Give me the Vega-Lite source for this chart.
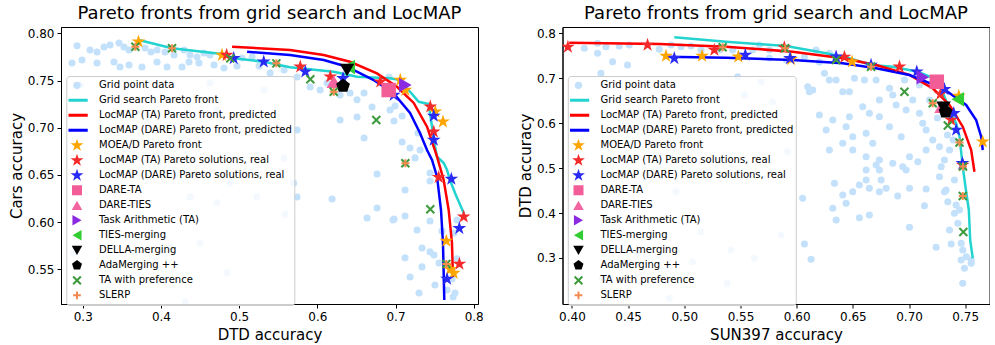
{
"$schema": "https://vega.github.io/schema/vega-lite/v6.json",
"padding": {"left": 8, "top": 4, "right": 0, "bottom": 0},
"spacing": 33.5,
"resolve": {"scale": {"color": "independent", "shape": "independent", "size": "independent", "x": "independent", "y": "independent"}, "legend": {"color": "independent"}},
"config": {
  "font": "DejaVu Sans",
  "view": {"stroke": "black", "strokeWidth": 1},
  "title": {"font": "DejaVu Sans", "fontSize": 18, "fontWeight": "normal", "anchor": "middle", "offset": 4, "color": "black"},
  "axis": {"grid": false, "domainColor": "black", "tickColor": "black", "labelColor": "black", "titleColor": "black", "labelFont": "DejaVu Sans", "titleFont": "DejaVu Sans", "labelFontSize": 12, "titleFontSize": 15, "titleFontWeight": "normal", "tickSize": 4, "labelPadding": 3, "labelFlush": false, "labelOverlap": false},
  "axisX": {"titlePadding": 5},
  "axisY": {"titlePadding": 3},
  "legend": {"labelFont": "DejaVu Sans", "labelFontSize": 10, "labelColor": "black", "padding": 2.2, "rowPadding": 0, "clipHeight": 14.3, "strokeColor": "#cccccc", "fillColor": "rgba(255,255,255,0.8)", "cornerRadius": 3, "labelLimit": 400, "labelOffset": 17, "symbolOffset": 3.5, "symbolSize": 180}
},
"datasets": {
"L": [
{"s":"Grid point data","x":0.2927,"y":0.7869},{"s":"Grid point data","x":0.3093,"y":0.7823},{"s":"Grid point data","x":0.3183,"y":0.7802},{"s":"Grid point data","x":0.3272,"y":0.7855},{"s":"Grid point data","x":0.3349,"y":0.7876},{"s":"Grid point data","x":0.3464,"y":0.7897},{"s":"Grid point data","x":0.3528,"y":0.7855},{"s":"Grid point data","x":0.3592,"y":0.7823},{"s":"Grid point data","x":0.3797,"y":0.7844},{"s":"Grid point data","x":0.3873,"y":0.7802},{"s":"Grid point data","x":0.395,"y":0.7823},{"s":"Grid point data","x":0.4052,"y":0.7802},{"s":"Grid point data","x":0.4168,"y":0.777},{"s":"Grid point data","x":0.4295,"y":0.7823},{"s":"Grid point data","x":0.4372,"y":0.777},{"s":"Grid point data","x":0.4462,"y":0.7749},{"s":"Grid point data","x":0.4551,"y":0.7791},{"s":"Grid point data","x":0.4628,"y":0.777},{"s":"Grid point data","x":0.5038,"y":0.7738},{"s":"Grid point data","x":0.5166,"y":0.7749},
{"s":"Grid point data","x":0.2863,"y":0.7685},{"s":"Grid point data","x":0.2991,"y":0.7717},{"s":"Grid point data","x":0.3183,"y":0.7685},{"s":"Grid point data","x":0.34,"y":0.7696},{"s":"Grid point data","x":0.3477,"y":0.7643},{"s":"Grid point data","x":0.3592,"y":0.7664},{"s":"Grid point data","x":0.3758,"y":0.7643},{"s":"Grid point data","x":0.395,"y":0.7696},{"s":"Grid point data","x":0.4078,"y":0.7643},{"s":"Grid point data","x":0.427,"y":0.7643},{"s":"Grid point data","x":0.4359,"y":0.7696},{"s":"Grid point data","x":0.4487,"y":0.7685},{"s":"Grid point data","x":0.4679,"y":0.7664},{"s":"Grid point data","x":0.4807,"y":0.7632},{"s":"Grid point data","x":0.4973,"y":0.7653},{"s":"Grid point data","x":0.5255,"y":0.7653},
{"s":"Grid point data","x":0.5396,"y":0.7579},{"s":"Grid point data","x":0.5575,"y":0.7611},{"s":"Grid point data","x":0.5741,"y":0.7537},{"s":"Grid point data","x":0.5908,"y":0.7431},{"s":"Grid point data","x":0.6036,"y":0.7399},{"s":"Grid point data","x":0.6125,"y":0.7473},{"s":"Grid point data","x":0.6291,"y":0.7346},{"s":"Grid point data","x":0.6419,"y":0.7367},{"s":"Grid point data","x":0.6508,"y":0.7296},{"s":"Grid point data","x":0.6598,"y":0.7367},{"s":"Grid point data","x":0.67,"y":0.722},{"s":"Grid point data","x":0.6918,"y":0.7537},{"s":"Grid point data","x":0.693,"y":0.7188},{"s":"Grid point data","x":0.6994,"y":0.723},{"s":"Grid point data","x":0.7084,"y":0.7124},{"s":"Grid point data","x":0.6981,"y":0.7071},{"s":"Grid point data","x":0.7288,"y":0.6944},{"s":"Grid point data","x":0.6598,"y":0.6891},{"s":"Grid point data","x":0.7084,"y":0.6849},{"s":"Grid point data","x":0.7186,"y":0.6785},{"s":"Grid point data","x":0.725,"y":0.668},{"s":"Grid point data","x":0.7314,"y":0.6764},{"s":"Grid point data","x":0.6291,"y":0.7082},{"s":"Grid point data","x":0.6508,"y":0.7113},
{"s":"Grid point data","x":0.2967,"y":0.7452},{"s":"Grid point data","x":0.4628,"y":0.7473},{"s":"Grid point data","x":0.4717,"y":0.7188},{"s":"Grid point data","x":0.5318,"y":0.7399},{"s":"Grid point data","x":0.5741,"y":0.6976},{"s":"Grid point data","x":0.5575,"y":0.668},{"s":"Grid point data","x":0.4884,"y":0.6415},{"s":"Grid point data","x":0.5229,"y":0.6267},{"s":"Grid point data","x":0.4717,"y":0.6204},{"s":"Grid point data","x":0.4372,"y":0.6267},{"s":"Grid point data","x":0.4168,"y":0.65},{"s":"Grid point data","x":0.3669,"y":0.5674},{"s":"Grid point data","x":0.4116,"y":0.5737},{"s":"Grid point data","x":0.45,"y":0.578},{"s":"Grid point data","x":0.4846,"y":0.5462},{"s":"Grid point data","x":0.2885,"y":0.5673},
{"s":"Grid point data","x":0.5698,"y":0.6414},{"s":"Grid point data","x":0.5741,"y":0.6266},{"s":"Grid point data","x":0.6189,"y":0.6245},{"s":"Grid point data","x":0.5588,"y":0.6086},{"s":"Grid point data","x":0.6636,"y":0.6043},{"s":"Grid point data","x":0.6764,"y":0.6149},{"s":"Grid point data","x":0.6981,"y":0.6033},{"s":"Grid point data","x":0.7122,"y":0.6064},{"s":"Grid point data","x":0.7122,"y":0.634},{"s":"Grid point data","x":0.6764,"y":0.651},{"s":"Grid point data","x":0.7275,"y":0.5917},{"s":"Grid point data","x":0.7339,"y":0.5726},{"s":"Grid point data","x":0.7441,"y":0.5684},{"s":"Grid point data","x":0.7492,"y":0.5652},{"s":"Grid point data","x":0.7122,"y":0.5621},{"s":"Grid point data","x":0.7339,"y":0.5525},{"s":"Grid point data","x":0.7557,"y":0.5567},{"s":"Grid point data","x":0.7186,"y":0.5419},{"s":"Grid point data","x":0.7505,"y":0.5334},{"s":"Grid point data","x":0.7301,"y":0.5249},{"s":"Grid point data","x":0.7659,"y":0.5281},{"s":"Grid point data","x":0.7736,"y":0.5207},{"s":"Grid point data","x":0.7761,"y":0.5249},{"s":"Grid point data","x":0.7786,"y":0.6022},{"s":"Grid point data","x":0.7748,"y":0.5885},{"s":"Grid point data","x":0.7786,"y":0.561},{"s":"Grid point data","x":0.7723,"y":0.5397},{"s":"Grid point data","x":0.7595,"y":0.5906},{"s":"Grid point data","x":0.7441,"y":0.6012},{"s":"Grid point data","x":0.7441,"y":0.652},{"s":"Grid point data","x":0.7441,"y":0.6436},{"s":"Grid point data","x":0.4311,"y":0.5155},{"s":"Grid point data","x":0.6968,"y":0.6022},
{"s":"Grid search Pareto front","k":1,"x":0.3716,"y":0.7929},{"s":"Grid search Pareto front","k":2,"x":0.4142,"y":0.7841},{"s":"Grid search Pareto front","k":3,"x":0.4781,"y":0.7781},{"s":"Grid search Pareto front","k":4,"x":0.4931,"y":0.7735},{"s":"Grid search Pareto front","k":5,"x":0.5315,"y":0.7699},{"s":"Grid search Pareto front","k":6,"x":0.5651,"y":0.764},{"s":"Grid search Pareto front","k":7,"x":0.621,"y":0.7593},{"s":"Grid search Pareto front","k":8,"x":0.6508,"y":0.754},{"s":"Grid search Pareto front","k":9,"x":0.693,"y":0.7523},{"s":"Grid search Pareto front","k":10,"x":0.7058,"y":0.7505},{"s":"Grid search Pareto front","k":11,"x":0.7186,"y":0.7381},{"s":"Grid search Pareto front","k":12,"x":0.7297,"y":0.7275},{"s":"Grid search Pareto front","k":13,"x":0.7425,"y":0.7251},{"s":"Grid search Pareto front","k":14,"x":0.7441,"y":0.7156},{"s":"Grid search Pareto front","k":15,"x":0.7467,"y":0.7011},{"s":"Grid search Pareto front","k":16,"x":0.7489,"y":0.687},{"s":"Grid search Pareto front","k":17,"x":0.7531,"y":0.6693},{"s":"Grid search Pareto front","k":18,"x":0.7617,"y":0.6626},{"s":"Grid search Pareto front","k":19,"x":0.7659,"y":0.6552},{"s":"Grid search Pareto front","k":20,"x":0.7697,"y":0.6446},{"s":"Grid search Pareto front","k":21,"x":0.7761,"y":0.6308},{"s":"Grid search Pareto front","k":22,"x":0.7872,"y":0.6096},
{"s":"LocMAP (TA) Pareto front, predicted","k":1,"x":0.491,"y":0.7858},{"s":"LocMAP (TA) Pareto front, predicted","k":2,"x":0.5651,"y":0.7823},{"s":"LocMAP (TA) Pareto front, predicted","k":3,"x":0.6082,"y":0.777},{"s":"LocMAP (TA) Pareto front, predicted","k":4,"x":0.6418,"y":0.7699},{"s":"LocMAP (TA) Pareto front, predicted","k":5,"x":0.6763,"y":0.7576},{"s":"LocMAP (TA) Pareto front, predicted","k":6,"x":0.7019,"y":0.7434},{"s":"LocMAP (TA) Pareto front, predicted","k":7,"x":0.7233,"y":0.7262},{"s":"LocMAP (TA) Pareto front, predicted","k":8,"x":0.7403,"y":0.7011},{"s":"LocMAP (TA) Pareto front, predicted","k":9,"x":0.7531,"y":0.6693},{"s":"LocMAP (TA) Pareto front, predicted","k":10,"x":0.7616,"y":0.6446},{"s":"LocMAP (TA) Pareto front, predicted","k":11,"x":0.768,"y":0.6128},{"s":"LocMAP (TA) Pareto front, predicted","k":12,"x":0.7722,"y":0.5779},{"s":"LocMAP (TA) Pareto front, predicted","k":13,"x":0.7735,"y":0.5419},
{"s":"LocMAP (DARE) Pareto front, predicted","k":1,"x":0.5102,"y":0.7805},{"s":"LocMAP (DARE) Pareto front, predicted","k":2,"x":0.5651,"y":0.777},{"s":"LocMAP (DARE) Pareto front, predicted","k":3,"x":0.6082,"y":0.7717},{"s":"LocMAP (DARE) Pareto front, predicted","k":4,"x":0.638,"y":0.7646},{"s":"LocMAP (DARE) Pareto front, predicted","k":5,"x":0.6721,"y":0.7505},{"s":"LocMAP (DARE) Pareto front, predicted","k":6,"x":0.6977,"y":0.7364},{"s":"LocMAP (DARE) Pareto front, predicted","k":7,"x":0.7186,"y":0.7156},{"s":"LocMAP (DARE) Pareto front, predicted","k":8,"x":0.7313,"y":0.6944},{"s":"LocMAP (DARE) Pareto front, predicted","k":9,"x":0.7403,"y":0.6764},{"s":"LocMAP (DARE) Pareto front, predicted","k":10,"x":0.7467,"y":0.6658},{"s":"LocMAP (DARE) Pareto front, predicted","k":11,"x":0.7531,"y":0.6481},{"s":"LocMAP (DARE) Pareto front, predicted","k":12,"x":0.7582,"y":0.6128},{"s":"LocMAP (DARE) Pareto front, predicted","k":13,"x":0.7607,"y":0.5779},{"s":"LocMAP (DARE) Pareto front, predicted","k":14,"x":0.7624,"y":0.5175},
{"s":"MOEA/D Pareto front","x":0.3713,"y":0.7911},{"s":"MOEA/D Pareto front","x":0.4781,"y":0.777},{"s":"MOEA/D Pareto front","x":0.7061,"y":0.7505},{"s":"MOEA/D Pareto front","x":0.7126,"y":0.7399},{"s":"MOEA/D Pareto front","x":0.7509,"y":0.717},{"s":"MOEA/D Pareto front","x":0.7607,"y":0.7064},{"s":"MOEA/D Pareto front","x":0.765,"y":0.58},{"s":"MOEA/D Pareto front","x":0.77,"y":0.55},{"s":"MOEA/D Pareto front","x":0.7745,"y":0.546},
{"s":"LocMAP (TA) Pareto solutions, real","x":0.484,"y":0.777},{"s":"LocMAP (TA) Pareto solutions, real","x":0.5782,"y":0.7646},{"s":"LocMAP (TA) Pareto solutions, real","x":0.6166,"y":0.754},{"s":"LocMAP (TA) Pareto solutions, real","x":0.6806,"y":0.7487},{"s":"LocMAP (TA) Pareto solutions, real","x":0.7445,"y":0.7223},{"s":"LocMAP (TA) Pareto solutions, real","x":0.7489,"y":0.6958},{"s":"LocMAP (TA) Pareto solutions, real","x":0.7552,"y":0.6475},{"s":"LocMAP (TA) Pareto solutions, real","x":0.7872,"y":0.6057},{"s":"LocMAP (TA) Pareto solutions, real","x":0.7817,"y":0.5556},
{"s":"LocMAP (DARE) Pareto solutions, real","x":0.4931,"y":0.7735},{"s":"LocMAP (DARE) Pareto solutions, real","x":0.5315,"y":0.7699},{"s":"LocMAP (DARE) Pareto solutions, real","x":0.5847,"y":0.7593},{"s":"LocMAP (DARE) Pareto solutions, real","x":0.6329,"y":0.7523},{"s":"LocMAP (DARE) Pareto solutions, real","x":0.6977,"y":0.7346},{"s":"LocMAP (DARE) Pareto solutions, real","x":0.7489,"y":0.7124},{"s":"LocMAP (DARE) Pareto solutions, real","x":0.7489,"y":0.687},{"s":"LocMAP (DARE) Pareto solutions, real","x":0.7714,"y":0.6457},{"s":"LocMAP (DARE) Pareto solutions, real","x":0.7816,"y":0.5934},{"s":"LocMAP (DARE) Pareto solutions, real","x":0.7659,"y":0.5397},
{"s":"DARE-TA","x":0.6913,"y":0.7399},
{"s":"DARE-TIES","x":0.621,"y":0.7487},
{"s":"Task Arithmetic (TA)","x":0.7126,"y":0.7452},
{"s":"TIES-merging","x":0.6402,"y":0.7643},
{"s":"DELLA-merging","x":0.638,"y":0.7611},
{"s":"AdaMerging ++","x":0.6329,"y":0.7442},
{"s":"TA with preference","x":0.3673,"y":0.7858},{"s":"TA with preference","x":0.4142,"y":0.7841},{"s":"TA with preference","x":0.4887,"y":0.7735},{"s":"TA with preference","x":0.5476,"y":0.7682},{"s":"TA with preference","x":0.5911,"y":0.7513},{"s":"TA with preference","x":0.621,"y":0.7381},{"s":"TA with preference","x":0.6754,"y":0.7082},{"s":"TA with preference","x":0.7126,"y":0.6623},{"s":"TA with preference","x":0.7445,"y":0.6136},{"s":"TA with preference","x":0.765,"y":0.5556},
{"s":"SLERP","x":0.3673,"y":0.7858},{"s":"SLERP","x":0.4142,"y":0.7841},{"s":"SLERP","x":0.5476,"y":0.7682},{"s":"SLERP","x":0.621,"y":0.7381},{"s":"SLERP","x":0.7126,"y":0.6623},{"s":"SLERP","x":0.765,"y":0.5556}
],
"R": [
{"s":"Grid point data","x":0.411,"y":0.7666},{"s":"Grid point data","x":0.4228,"y":0.7555},{"s":"Grid point data","x":0.4421,"y":0.7717},{"s":"Grid point data","x":0.451,"y":0.774},{"s":"Grid point data","x":0.4362,"y":0.7368},{"s":"Grid point data","x":0.4495,"y":0.7295},{"s":"Grid point data","x":0.4258,"y":0.711},{"s":"Grid point data","x":0.4228,"y":0.7777},{"s":"Grid point data","x":0.4303,"y":0.7702},{"s":"Grid point data","x":0.4777,"y":0.7644},{"s":"Grid point data","x":0.4882,"y":0.774},{"s":"Grid point data","x":0.4971,"y":0.7702},{"s":"Grid point data","x":0.506,"y":0.7717},{"s":"Grid point data","x":0.5149,"y":0.7628},{"s":"Grid point data","x":0.5312,"y":0.7628},{"s":"Grid point data","x":0.543,"y":0.7628},{"s":"Grid point data","x":0.5608,"y":0.7628},{"s":"Grid point data","x":0.5668,"y":0.774},{"s":"Grid point data","x":0.5757,"y":0.7628},{"s":"Grid point data","x":0.6173,"y":0.7628},{"s":"Grid point data","x":0.6291,"y":0.7555},
{"s":"Grid point data","x":0.6098,"y":0.6812},{"s":"Grid point data","x":0.6143,"y":0.6738},{"s":"Grid point data","x":0.6247,"y":0.711},{"s":"Grid point data","x":0.6291,"y":0.6961},{"s":"Grid point data","x":0.6351,"y":0.6961},{"s":"Grid point data","x":0.641,"y":0.6701},{"s":"Grid point data","x":0.6469,"y":0.6701},{"s":"Grid point data","x":0.6514,"y":0.6999},{"s":"Grid point data","x":0.6603,"y":0.6961},{"s":"Grid point data","x":0.6707,"y":0.6961},{"s":"Grid point data","x":0.6826,"y":0.6776},{"s":"Grid point data","x":0.6855,"y":0.6627},{"s":"Grid point data","x":0.6736,"y":0.6516},{"s":"Grid point data","x":0.6885,"y":0.6405},{"s":"Grid point data","x":0.6974,"y":0.6293},{"s":"Grid point data","x":0.7033,"y":0.6516},{"s":"Grid point data","x":0.7093,"y":0.622},{"s":"Grid point data","x":0.7122,"y":0.5997},{"s":"Grid point data","x":0.7152,"y":0.5848},{"s":"Grid point data","x":0.7211,"y":0.5626},{"s":"Grid point data","x":0.7271,"y":0.5477},{"s":"Grid point data","x":0.7152,"y":0.5403},{"s":"Grid point data","x":0.7004,"y":0.5254},{"s":"Grid point data","x":0.7078,"y":0.5143},{"s":"Grid point data","x":0.693,"y":0.5699},{"s":"Grid point data","x":0.6826,"y":0.5922},{"s":"Grid point data","x":0.6736,"y":0.6144},{"s":"Grid point data","x":0.6647,"y":0.622},{"s":"Grid point data","x":0.6588,"y":0.6367},{"s":"Grid point data","x":0.6618,"y":0.5775},{"s":"Grid point data","x":0.6677,"y":0.5552},{"s":"Grid point data","x":0.6499,"y":0.5699},{"s":"Grid point data","x":0.641,"y":0.5552},{"s":"Grid point data","x":0.6262,"y":0.5848},{"s":"Grid point data","x":0.6202,"y":0.6182},{"s":"Grid point data","x":0.6321,"y":0.6071},{"s":"Grid point data","x":0.6469,"y":0.6144},{"s":"Grid point data","x":0.644,"y":0.5922},{"s":"Grid point data","x":0.6499,"y":0.5403},{"s":"Grid point data","x":0.6618,"y":0.5254},{"s":"Grid point data","x":0.6736,"y":0.518},{"s":"Grid point data","x":0.6855,"y":0.5107},{"s":"Grid point data","x":0.6974,"y":0.4958},{"s":"Grid point data","x":0.6736,"y":0.4958},{"s":"Grid point data","x":0.6618,"y":0.4958},{"s":"Grid point data","x":0.6291,"y":0.5403},
{"s":"Grid point data","x":0.5475,"y":0.7034},{"s":"Grid point data","x":0.5683,"y":0.6923},{"s":"Grid point data","x":0.5534,"y":0.6627},{"s":"Grid point data","x":0.5786,"y":0.6478},{"s":"Grid point data","x":0.6113,"y":0.6701},{"s":"Grid point data","x":0.592,"y":0.5365},{"s":"Grid point data","x":0.6053,"y":0.4328},{"s":"Grid point data","x":0.6069,"y":0.3311},{"s":"Grid point data","x":0.5861,"y":0.3512},{"s":"Grid point data","x":0.5623,"y":0.2993},{"s":"Grid point data","x":0.5416,"y":0.3178},{"s":"Grid point data","x":0.5149,"y":0.3585},{"s":"Grid point data","x":0.4926,"y":0.4475},{"s":"Grid point data","x":0.5074,"y":0.2918},{"s":"Grid point data","x":0.4866,"y":0.2103},{"s":"Grid point data","x":0.4584,"y":0.3105},{"s":"Grid point data","x":0.4272,"y":0.2548},{"s":"Grid point data","x":0.538,"y":0.2437},
{"s":"Grid point data","x":0.6336,"y":0.4662},{"s":"Grid point data","x":0.641,"y":0.4402},{"s":"Grid point data","x":0.644,"y":0.4217},{"s":"Grid point data","x":0.6321,"y":0.4106},{"s":"Grid point data","x":0.6351,"y":0.3846},{"s":"Grid point data","x":0.6499,"y":0.4475},{"s":"Grid point data","x":0.6558,"y":0.4624},{"s":"Grid point data","x":0.6647,"y":0.4551},{"s":"Grid point data","x":0.6752,"y":0.4736},{"s":"Grid point data","x":0.6736,"y":0.4475},{"s":"Grid point data","x":0.6899,"y":0.438},{"s":"Grid point data","x":0.7004,"y":0.4551},{"s":"Grid point data","x":0.7152,"y":0.4535},{"s":"Grid point data","x":0.7137,"y":0.4164},{"s":"Grid point data","x":0.6558,"y":0.3897},{"s":"Grid point data","x":0.6647,"y":0.3957},{"s":"Grid point data","x":0.7004,"y":0.3683},{"s":"Grid point data","x":0.7241,"y":0.3238},{"s":"Grid point data","x":0.7375,"y":0.3311},{"s":"Grid point data","x":0.736,"y":0.3623},{"s":"Grid point data","x":0.733,"y":0.4513},{"s":"Grid point data","x":0.7345,"y":0.4253},{"s":"Grid point data","x":0.7404,"y":0.3995},{"s":"Grid point data","x":0.6128,"y":0.2971},{"s":"Grid point data","x":0.7478,"y":0.2437},{"s":"Grid point data","x":0.7553,"y":0.2956},{"s":"Grid point data","x":0.7493,"y":0.2771},{"s":"Grid point data","x":0.7271,"y":0.4809},{"s":"Grid point data","x":0.7434,"y":0.3772},{"s":"Grid point data","x":0.6707,"y":0.5069},{"s":"Grid point data","x":0.6944,"y":0.5032},{"s":"Grid point data","x":0.7286,"y":0.5032},{"s":"Grid point data","x":0.6796,"y":0.4551},{"s":"Grid point data","x":0.7449,"y":0.4068},{"s":"Grid point data","x":0.7464,"y":0.3327},{"s":"Grid point data","x":0.7478,"y":0.3178},{"s":"Grid point data","x":0.7509,"y":0.3029},{"s":"Grid point data","x":0.7553,"y":0.2882},{"s":"Grid point data","x":0.7464,"y":0.2956},{"s":"Grid point data","x":0.7315,"y":0.4475},{"s":"Grid point data","x":0.7419,"y":0.418},{"s":"Grid point data","x":0.6618,"y":0.4736},{"s":"Grid point data","x":0.7393,"y":0.5626},{"s":"Grid point data","x":0.736,"y":0.5403},{"s":"Grid point data","x":0.7315,"y":0.518},{"s":"Grid point data","x":0.7404,"y":0.4736},{"s":"Grid point data","x":0.7253,"y":0.6115},{"s":"Grid point data","x":0.7182,"y":0.6516},{"s":"Grid point data","x":0.7342,"y":0.5737},{"s":"Grid point data","x":0.7093,"y":0.685},{"s":"Grid point data","x":0.696,"y":0.6961},{"s":"Grid point data","x":0.5908,"y":0.7406},{"s":"Grid point data","x":0.5757,"y":0.745},{"s":"Grid point data","x":0.6069,"y":0.7473},{"s":"Grid point data","x":0.6202,"y":0.7362},
{"s":"Grid search Pareto front","k":1,"x":0.4911,"y":0.7911},{"s":"Grid search Pareto front","k":2,"x":0.5371,"y":0.7813},{"s":"Grid search Pareto front","k":3,"x":0.5906,"y":0.7717},{"s":"Grid search Pareto front","k":4,"x":0.6262,"y":0.7555},{"s":"Grid search Pareto front","k":5,"x":0.6469,"y":0.7444},{"s":"Grid search Pareto front","k":6,"x":0.6662,"y":0.7295},{"s":"Grid search Pareto front","k":7,"x":0.6855,"y":0.7257},{"s":"Grid search Pareto front","k":8,"x":0.7077,"y":0.7146},{"s":"Grid search Pareto front","k":9,"x":0.7256,"y":0.6961},{"s":"Grid search Pareto front","k":10,"x":0.7315,"y":0.6589},{"s":"Grid search Pareto front","k":11,"x":0.7375,"y":0.622},{"s":"Grid search Pareto front","k":12,"x":0.7419,"y":0.5997},{"s":"Grid search Pareto front","k":13,"x":0.7449,"y":0.5699},{"s":"Grid search Pareto front","k":14,"x":0.7478,"y":0.5032},{"s":"Grid search Pareto front","k":15,"x":0.7502,"y":0.4587},{"s":"Grid search Pareto front","k":16,"x":0.7532,"y":0.4068},{"s":"Grid search Pareto front","k":17,"x":0.7544,"y":0.34},{"s":"Grid search Pareto front","k":18,"x":0.7567,"y":0.2993},
{"s":"LocMAP (TA) Pareto front, predicted","k":1,"x":0.3976,"y":0.7791},{"s":"LocMAP (TA) Pareto front, predicted","k":2,"x":0.4777,"y":0.7762},{"s":"LocMAP (TA) Pareto front, predicted","k":3,"x":0.5371,"y":0.7702},{"s":"LocMAP (TA) Pareto front, predicted","k":4,"x":0.5964,"y":0.7591},{"s":"LocMAP (TA) Pareto front, predicted","k":5,"x":0.641,"y":0.7444},{"s":"LocMAP (TA) Pareto front, predicted","k":6,"x":0.6707,"y":0.7295},{"s":"LocMAP (TA) Pareto front, predicted","k":7,"x":0.7004,"y":0.7072},{"s":"LocMAP (TA) Pareto front, predicted","k":8,"x":0.7211,"y":0.6776},{"s":"LocMAP (TA) Pareto front, predicted","k":9,"x":0.736,"y":0.6405},{"s":"LocMAP (TA) Pareto front, predicted","k":10,"x":0.7478,"y":0.5922},{"s":"LocMAP (TA) Pareto front, predicted","k":11,"x":0.7553,"y":0.5403},{"s":"LocMAP (TA) Pareto front, predicted","k":12,"x":0.7582,"y":0.492},
{"s":"LocMAP (DARE) Pareto front, predicted","k":1,"x":0.4837,"y":0.7479},{"s":"LocMAP (DARE) Pareto front, predicted","k":2,"x":0.5371,"y":0.7457},{"s":"LocMAP (DARE) Pareto front, predicted","k":3,"x":0.5964,"y":0.7406},{"s":"LocMAP (DARE) Pareto front, predicted","k":4,"x":0.641,"y":0.7332},{"s":"LocMAP (DARE) Pareto front, predicted","k":5,"x":0.6707,"y":0.7221},{"s":"LocMAP (DARE) Pareto front, predicted","k":6,"x":0.7004,"y":0.7072},{"s":"LocMAP (DARE) Pareto front, predicted","k":7,"x":0.73,"y":0.6776},{"s":"LocMAP (DARE) Pareto front, predicted","k":8,"x":0.7508,"y":0.6405},{"s":"LocMAP (DARE) Pareto front, predicted","k":9,"x":0.7597,"y":0.6071},{"s":"LocMAP (DARE) Pareto front, predicted","k":10,"x":0.7642,"y":0.5699},{"s":"LocMAP (DARE) Pareto front, predicted","k":11,"x":0.7656,"y":0.5403},
{"s":"MOEA/D Pareto front","x":0.4837,"y":0.7495},{"s":"MOEA/D Pareto front","x":0.5158,"y":0.7495},{"s":"MOEA/D Pareto front","x":0.5481,"y":0.7479},{"s":"MOEA/D Pareto front","x":0.595,"y":0.7421},{"s":"MOEA/D Pareto front","x":0.6493,"y":0.7368},{"s":"MOEA/D Pareto front","x":0.7443,"y":0.6605},{"s":"MOEA/D Pareto front","x":0.7656,"y":0.5588},
{"s":"LocMAP (TA) Pareto solutions, real","x":0.3964,"y":0.7695},{"s":"LocMAP (TA) Pareto solutions, real","x":0.4673,"y":0.774},{"s":"LocMAP (TA) Pareto solutions, real","x":0.5267,"y":0.7628},{"s":"LocMAP (TA) Pareto solutions, real","x":0.589,"y":0.7684},{"s":"LocMAP (TA) Pareto solutions, real","x":0.6425,"y":0.7473},{"s":"LocMAP (TA) Pareto solutions, real","x":0.6915,"y":0.7257},{"s":"LocMAP (TA) Pareto solutions, real","x":0.728,"y":0.6649},{"s":"LocMAP (TA) Pareto solutions, real","x":0.7375,"y":0.6071},{"s":"LocMAP (TA) Pareto solutions, real","x":0.7478,"y":0.5069},
{"s":"LocMAP (DARE) Pareto solutions, real","x":0.4911,"y":0.7444},{"s":"LocMAP (DARE) Pareto solutions, real","x":0.5543,"y":0.7517},{"s":"LocMAP (DARE) Pareto solutions, real","x":0.5941,"y":0.7444},{"s":"LocMAP (DARE) Pareto solutions, real","x":0.6351,"y":0.7479},{"s":"LocMAP (DARE) Pareto solutions, real","x":0.6662,"y":0.7295},{"s":"LocMAP (DARE) Pareto solutions, real","x":0.7069,"y":0.7146},{"s":"LocMAP (DARE) Pareto solutions, real","x":0.7315,"y":0.6754},{"s":"LocMAP (DARE) Pareto solutions, real","x":0.7398,"y":0.622},{"s":"LocMAP (DARE) Pareto solutions, real","x":0.7419,"y":0.5848},{"s":"LocMAP (DARE) Pareto solutions, real","x":0.7475,"y":0.5107},
{"s":"DARE-TA","x":0.7247,"y":0.6923},
{"s":"DARE-TIES","x":0.7289,"y":0.6365},
{"s":"Task Arithmetic (TA)","x":0.7122,"y":0.7021},
{"s":"TIES-merging","x":0.7434,"y":0.6531},
{"s":"DELLA-merging","x":0.7307,"y":0.6343},
{"s":"AdaMerging ++","x":0.7325,"y":0.6254},
{"s":"TA with preference","x":0.5341,"y":0.7688},{"s":"TA with preference","x":0.5897,"y":0.7666},{"s":"TA with preference","x":0.6351,"y":0.7406},{"s":"TA with preference","x":0.6662,"y":0.7257},{"s":"TA with preference","x":0.6959,"y":0.67},{"s":"TA with preference","x":0.7211,"y":0.6442},{"s":"TA with preference","x":0.7345,"y":0.5948},{"s":"TA with preference","x":0.7449,"y":0.557},{"s":"TA with preference","x":0.748,"y":0.5036},{"s":"TA with preference","x":0.7478,"y":0.438},{"s":"TA with preference","x":0.7483,"y":0.3579},
{"s":"SLERP","x":0.5341,"y":0.7688},{"s":"SLERP","x":0.5897,"y":0.7666},{"s":"SLERP","x":0.6662,"y":0.7257},{"s":"SLERP","x":0.7211,"y":0.6442},{"s":"SLERP","x":0.7449,"y":0.557},{"s":"SLERP","x":0.748,"y":0.5036},{"s":"SLERP","x":0.7478,"y":0.438}
]
},
"hconcat": [
{
  "width": 417, "height": 277,
  "title": "Pareto fronts from grid search and LocMAP",
  "data": {"name": "L"},
  "encoding": {
    "x": {"field": "x", "type": "quantitative", "scale": {"domain": [0.2722, 0.8055], "nice": false, "zero": false}, "axis": {"title": "DTD accuracy", "values": [0.3, 0.4, 0.5, 0.6, 0.7, 0.8], "format": ".1f"}},
    "y": {"field": "y", "type": "quantitative", "scale": {"domain": [0.5132, 0.8067], "nice": false, "zero": false}, "axis": {"title": "Cars accuracy", "values": [0.55, 0.6, 0.65, 0.7, 0.75, 0.8], "format": ".2f"}},
    "color": {"field": "s", "type": "nominal",
      "scale": {"domain": ["Grid point data", "Grid search Pareto front", "LocMAP (TA) Pareto front, predicted", "LocMAP (DARE) Pareto front, predicted", "MOEA/D Pareto front", "LocMAP (TA) Pareto solutions, real", "LocMAP (DARE) Pareto solutions, real", "DARE-TA", "DARE-TIES", "Task Arithmetic (TA)", "TIES-merging", "DELLA-merging", "AdaMerging ++", "TA with preference", "SLERP"],
                "range": ["#c4e1fb", "#22d3d0", "#ff0000", "#0000ff", "#ffa500", "#f52a2a", "#2a2af5", "#f25d98", "#f364a0", "#8a2be2", "#32cd32", "#000000", "#000000", "#3d9a3d", "#f58a50"]},
      "legend": {"title": null, "orient": "none", "legendX": 5.3, "legendY": 49,
        "encoding": {"symbols": {
          "fill": {"value": {"expr": "({'Grid point data':'#c4e1fb','MOEA/D Pareto front':'#ffa500','LocMAP (TA) Pareto solutions, real':'#f52a2a','LocMAP (DARE) Pareto solutions, real':'#2a2af5','DARE-TA':'#f25d98','DARE-TIES':'#f364a0','Task Arithmetic (TA)':'#8a2be2','TIES-merging':'#32cd32','DELLA-merging':'#000000','AdaMerging ++':'#000000'})[datum.value] || null"}},
          "stroke": {"value": {"expr": "({'Grid search Pareto front':'#22d3d0','LocMAP (TA) Pareto front, predicted':'#ff0000','LocMAP (DARE) Pareto front, predicted':'#0000ff','TA with preference':'#3d9a3d','SLERP':'#f58a50'})[datum.value] || null"}},
          "strokeWidth": {"value": {"expr": "(datum.value == 'TA with preference' || datum.value == 'SLERP') ? 2 : (indexof(['Grid search Pareto front','LocMAP (TA) Pareto front, predicted','LocMAP (DARE) Pareto front, predicted'], datum.value) >= 0 ? 3 : 0)"}},
          "opacity": {"value": 1},
          "shape": {"value": {"expr": "({'Grid point data':'circle','Grid search Pareto front':'stroke','LocMAP (TA) Pareto front, predicted':'stroke','LocMAP (DARE) Pareto front, predicted':'stroke','MOEA/D Pareto front':'M0,-1L0.2245,-0.309L0.9511,-0.309L0.3633,0.118L0.5878,0.809L0,0.382L-0.5878,0.809L-0.3633,0.118L-0.9511,-0.309L-0.2245,-0.309Z','LocMAP (TA) Pareto solutions, real':'M0,-1L0.2245,-0.309L0.9511,-0.309L0.3633,0.118L0.5878,0.809L0,0.382L-0.5878,0.809L-0.3633,0.118L-0.9511,-0.309L-0.2245,-0.309Z','LocMAP (DARE) Pareto solutions, real':'M0,-1L0.2245,-0.309L0.9511,-0.309L0.3633,0.118L0.5878,0.809L0,0.382L-0.5878,0.809L-0.3633,0.118L-0.9511,-0.309L-0.2245,-0.309Z','DARE-TA':'square','DARE-TIES':'triangle-up','Task Arithmetic (TA)':'triangle-right','TIES-merging':'triangle-left','DELLA-merging':'triangle-down','AdaMerging ++':'M0,-1L0.9511,-0.309L0.5878,0.809L-0.5878,0.809L-0.9511,-0.309Z','TA with preference':'M-1,-1L1,1M-1,1L1,-1','SLERP':'M-1,0L1,0M0,-1L0,1'})[datum.value]"}},
          "size": {"value": {"expr": "({'Grid point data':55,'Grid search Pareto front':460,'LocMAP (TA) Pareto front, predicted':460,'LocMAP (DARE) Pareto front, predicted':460,'MOEA/D Pareto front':180,'LocMAP (TA) Pareto solutions, real':180,'LocMAP (DARE) Pareto solutions, real':180,'DARE-TA':100,'DARE-TIES':110,'Task Arithmetic (TA)':110,'TIES-merging':110,'DELLA-merging':110,'AdaMerging ++':110,'TA with preference':60,'SLERP':60})[datum.value]"}}
        }}}
    }
  },
  "layer": [
    {"transform": [{"filter": "datum.s == 'Grid point data'"}],
     "mark": {"type": "point", "filled": true, "size": 50, "opacity": 1, "clip": true}},
    {"transform": [{"filter": "indexof(['Grid search Pareto front','LocMAP (TA) Pareto front, predicted','LocMAP (DARE) Pareto front, predicted'], datum.s) >= 0"}],
     "mark": {"type": "line", "strokeWidth": 2.5, "clip": true},
     "encoding": {"order": {"field": "k", "type": "quantitative"}}},
    {"transform": [{"filter": "indexof(['MOEA/D Pareto front','LocMAP (TA) Pareto solutions, real','LocMAP (DARE) Pareto solutions, real','DARE-TA','DARE-TIES','Task Arithmetic (TA)','TIES-merging','DELLA-merging','AdaMerging ++'], datum.s) >= 0"}],
     "mark": {"type": "point", "filled": true, "opacity": 1, "clip": true},
     "encoding": {
       "shape": {"field": "s", "type": "nominal", "legend": null,
         "scale": {"domain": ["MOEA/D Pareto front", "LocMAP (TA) Pareto solutions, real", "LocMAP (DARE) Pareto solutions, real", "DARE-TA", "DARE-TIES", "Task Arithmetic (TA)", "TIES-merging", "DELLA-merging", "AdaMerging ++"],
                   "range": ["M0,-1L0.2245,-0.309L0.9511,-0.309L0.3633,0.118L0.5878,0.809L0,0.382L-0.5878,0.809L-0.3633,0.118L-0.9511,-0.309L-0.2245,-0.309Z", "M0,-1L0.2245,-0.309L0.9511,-0.309L0.3633,0.118L0.5878,0.809L0,0.382L-0.5878,0.809L-0.3633,0.118L-0.9511,-0.309L-0.2245,-0.309Z", "M0,-1L0.2245,-0.309L0.9511,-0.309L0.3633,0.118L0.5878,0.809L0,0.382L-0.5878,0.809L-0.3633,0.118L-0.9511,-0.309L-0.2245,-0.309Z", "square", "triangle-up", "triangle-right", "triangle-left", "triangle-down", "M0,-1L0.9511,-0.309L0.5878,0.809L-0.5878,0.809L-0.9511,-0.309Z"]}},
       "size": {"field": "s", "type": "nominal", "legend": null,
         "scale": {"domain": ["MOEA/D Pareto front", "LocMAP (TA) Pareto solutions, real", "LocMAP (DARE) Pareto solutions, real", "DARE-TA", "DARE-TIES", "Task Arithmetic (TA)", "TIES-merging", "DELLA-merging", "AdaMerging ++"],
                   "range": [210, 210, 210, 95, 105, 105, 105, 105, 100]}}
     }},
    {"transform": [{"filter": "datum.s == 'TA with preference'"}],
     "mark": {"type": "point", "filled": false, "strokeWidth": 2, "size": 64, "opacity": 1, "clip": true, "shape": "M-1,-1L1,1M-1,1L1,-1"}},
    {"transform": [{"filter": "datum.s == 'SLERP'"}],
     "mark": {"type": "point", "filled": false, "strokeWidth": 2, "size": 64, "opacity": 1, "clip": true, "shape": "M-1,0L1,0M0,-1L0,1"}}
  ]
},
{
  "width": 427, "height": 277,
  "title": "Pareto fronts from grid search and LocMAP",
  "data": {"name": "R"},
  "encoding": {
    "x": {"field": "x", "type": "quantitative", "scale": {"domain": [0.3916, 0.7716], "nice": false, "zero": false}, "axis": {"title": "SUN397 accuracy", "values": [0.4, 0.45, 0.5, 0.55, 0.6, 0.65, 0.7, 0.75], "format": ".2f"}},
    "y": {"field": "y", "type": "quantitative", "scale": {"domain": [0.1976, 0.814], "nice": false, "zero": false}, "axis": {"title": "DTD accuracy", "values": [0.3, 0.4, 0.5, 0.6, 0.7, 0.8], "format": ".1f"}},
    "color": {"field": "s", "type": "nominal",
      "scale": {"domain": ["Grid point data", "Grid search Pareto front", "LocMAP (TA) Pareto front, predicted", "LocMAP (DARE) Pareto front, predicted", "MOEA/D Pareto front", "LocMAP (TA) Pareto solutions, real", "LocMAP (DARE) Pareto solutions, real", "DARE-TA", "DARE-TIES", "Task Arithmetic (TA)", "TIES-merging", "DELLA-merging", "AdaMerging ++", "TA with preference", "SLERP"],
                "range": ["#c4e1fb", "#22d3d0", "#ff0000", "#0000ff", "#ffa500", "#f52a2a", "#2a2af5", "#f25d98", "#f364a0", "#8a2be2", "#32cd32", "#000000", "#000000", "#3d9a3d", "#f58a50"]},
      "legend": {"title": null, "orient": "none", "legendX": 5.3, "legendY": 49,
        "encoding": {"symbols": {
          "fill": {"value": {"expr": "({'Grid point data':'#c4e1fb','MOEA/D Pareto front':'#ffa500','LocMAP (TA) Pareto solutions, real':'#f52a2a','LocMAP (DARE) Pareto solutions, real':'#2a2af5','DARE-TA':'#f25d98','DARE-TIES':'#f364a0','Task Arithmetic (TA)':'#8a2be2','TIES-merging':'#32cd32','DELLA-merging':'#000000','AdaMerging ++':'#000000'})[datum.value] || null"}},
          "stroke": {"value": {"expr": "({'Grid search Pareto front':'#22d3d0','LocMAP (TA) Pareto front, predicted':'#ff0000','LocMAP (DARE) Pareto front, predicted':'#0000ff','TA with preference':'#3d9a3d','SLERP':'#f58a50'})[datum.value] || null"}},
          "strokeWidth": {"value": {"expr": "(datum.value == 'TA with preference' || datum.value == 'SLERP') ? 2 : (indexof(['Grid search Pareto front','LocMAP (TA) Pareto front, predicted','LocMAP (DARE) Pareto front, predicted'], datum.value) >= 0 ? 3 : 0)"}},
          "opacity": {"value": 1},
          "shape": {"value": {"expr": "({'Grid point data':'circle','Grid search Pareto front':'stroke','LocMAP (TA) Pareto front, predicted':'stroke','LocMAP (DARE) Pareto front, predicted':'stroke','MOEA/D Pareto front':'M0,-1L0.2245,-0.309L0.9511,-0.309L0.3633,0.118L0.5878,0.809L0,0.382L-0.5878,0.809L-0.3633,0.118L-0.9511,-0.309L-0.2245,-0.309Z','LocMAP (TA) Pareto solutions, real':'M0,-1L0.2245,-0.309L0.9511,-0.309L0.3633,0.118L0.5878,0.809L0,0.382L-0.5878,0.809L-0.3633,0.118L-0.9511,-0.309L-0.2245,-0.309Z','LocMAP (DARE) Pareto solutions, real':'M0,-1L0.2245,-0.309L0.9511,-0.309L0.3633,0.118L0.5878,0.809L0,0.382L-0.5878,0.809L-0.3633,0.118L-0.9511,-0.309L-0.2245,-0.309Z','DARE-TA':'square','DARE-TIES':'triangle-up','Task Arithmetic (TA)':'triangle-right','TIES-merging':'triangle-left','DELLA-merging':'triangle-down','AdaMerging ++':'M0,-1L0.9511,-0.309L0.5878,0.809L-0.5878,0.809L-0.9511,-0.309Z','TA with preference':'M-1,-1L1,1M-1,1L1,-1','SLERP':'M-1,0L1,0M0,-1L0,1'})[datum.value]"}},
          "size": {"value": {"expr": "({'Grid point data':55,'Grid search Pareto front':460,'LocMAP (TA) Pareto front, predicted':460,'LocMAP (DARE) Pareto front, predicted':460,'MOEA/D Pareto front':180,'LocMAP (TA) Pareto solutions, real':180,'LocMAP (DARE) Pareto solutions, real':180,'DARE-TA':100,'DARE-TIES':110,'Task Arithmetic (TA)':110,'TIES-merging':110,'DELLA-merging':110,'AdaMerging ++':110,'TA with preference':60,'SLERP':60})[datum.value]"}}
        }}}
    }
  },
  "layer": [
    {"transform": [{"filter": "datum.s == 'Grid point data'"}],
     "mark": {"type": "point", "filled": true, "size": 50, "opacity": 1, "clip": true}},
    {"transform": [{"filter": "indexof(['Grid search Pareto front','LocMAP (TA) Pareto front, predicted','LocMAP (DARE) Pareto front, predicted'], datum.s) >= 0"}],
     "mark": {"type": "line", "strokeWidth": 2.5, "clip": true},
     "encoding": {"order": {"field": "k", "type": "quantitative"}}},
    {"transform": [{"filter": "indexof(['MOEA/D Pareto front','LocMAP (TA) Pareto solutions, real','LocMAP (DARE) Pareto solutions, real','DARE-TA','DARE-TIES','Task Arithmetic (TA)','TIES-merging','DELLA-merging','AdaMerging ++'], datum.s) >= 0"}],
     "mark": {"type": "point", "filled": true, "opacity": 1, "clip": true},
     "encoding": {
       "shape": {"field": "s", "type": "nominal", "legend": null,
         "scale": {"domain": ["MOEA/D Pareto front", "LocMAP (TA) Pareto solutions, real", "LocMAP (DARE) Pareto solutions, real", "DARE-TA", "DARE-TIES", "Task Arithmetic (TA)", "TIES-merging", "DELLA-merging", "AdaMerging ++"],
                   "range": ["M0,-1L0.2245,-0.309L0.9511,-0.309L0.3633,0.118L0.5878,0.809L0,0.382L-0.5878,0.809L-0.3633,0.118L-0.9511,-0.309L-0.2245,-0.309Z", "M0,-1L0.2245,-0.309L0.9511,-0.309L0.3633,0.118L0.5878,0.809L0,0.382L-0.5878,0.809L-0.3633,0.118L-0.9511,-0.309L-0.2245,-0.309Z", "M0,-1L0.2245,-0.309L0.9511,-0.309L0.3633,0.118L0.5878,0.809L0,0.382L-0.5878,0.809L-0.3633,0.118L-0.9511,-0.309L-0.2245,-0.309Z", "square", "triangle-up", "triangle-right", "triangle-left", "triangle-down", "M0,-1L0.9511,-0.309L0.5878,0.809L-0.5878,0.809L-0.9511,-0.309Z"]}},
       "size": {"field": "s", "type": "nominal", "legend": null,
         "scale": {"domain": ["MOEA/D Pareto front", "LocMAP (TA) Pareto solutions, real", "LocMAP (DARE) Pareto solutions, real", "DARE-TA", "DARE-TIES", "Task Arithmetic (TA)", "TIES-merging", "DELLA-merging", "AdaMerging ++"],
                   "range": [210, 210, 210, 95, 105, 105, 105, 105, 100]}}
     }},
    {"transform": [{"filter": "datum.s == 'TA with preference'"}],
     "mark": {"type": "point", "filled": false, "strokeWidth": 2, "size": 64, "opacity": 1, "clip": true, "shape": "M-1,-1L1,1M-1,1L1,-1"}},
    {"transform": [{"filter": "datum.s == 'SLERP'"}],
     "mark": {"type": "point", "filled": false, "strokeWidth": 2, "size": 64, "opacity": 1, "clip": true, "shape": "M-1,0L1,0M0,-1L0,1"}}
  ]
}
]
}
